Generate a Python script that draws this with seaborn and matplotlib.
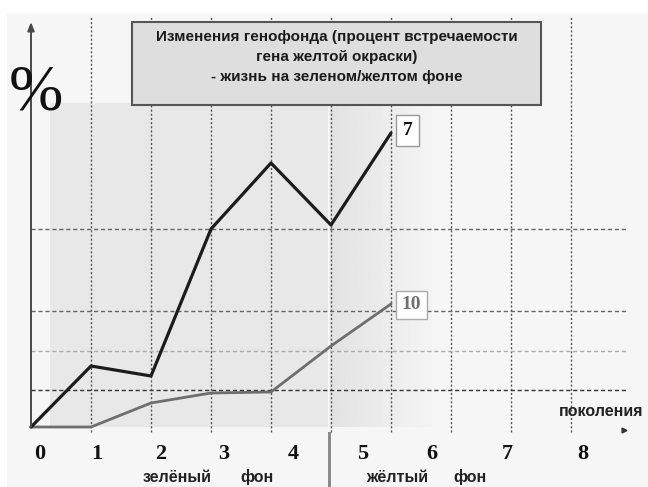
import numpy as np
import seaborn as sns
import matplotlib.pyplot as plt
from matplotlib.patches import Rectangle

# Данные (проценты, условные единицы)
generations = [0, 1, 2, 3, 4, 5, 6]
line_black = [0, 15.25, 12.75, 49.5, 66, 50.5, 73.5]
line_gray = [0, 0, 6, 8.5, 8.75, 20.25, 30.75]
end_labels = ['7', '10']
tick_labels = ['0', '1', '2', '3', '4', '5', '6', '7', '8']
title_lines = ['Изменения генофонда (процент встречаемости',
               'гена желтой окраски)',
               '- жизнь на зеленом/желтом фоне']

# Разметка (пиксели -> координаты осей)
W, H = 648, 487
X0, SX = 31, 60      # пиксель поколения 0, пикселей на поколение
Y0, SY = 427, 4      # пиксель нуля, пикселей на единицу


def px_x(px):
    return (px - X0) / SX


def px_y(py):
    return (Y0 - py) / SY


sns.set_style('white')
plt.rcParams['font.family'] = ['Liberation Sans', 'DejaVu Sans']

fig = plt.figure(figsize=(W / 100, H / 100), dpi=100)
fig.patch.set_facecolor('white')
# светло-серый фон слайда
fig.add_artist(Rectangle((7 / W, 0), 1, 1 - 14 / H, transform=fig.transFigure,
                         fc='#f6f6f6', ec='none', zorder=-10))

ax = fig.add_axes([X0 / W, (H - Y0) / H, (640 - X0) / W, (Y0 - 15) / H])
ax.set_facecolor('none')
for s in ax.spines.values():
    s.set_visible(False)

# фоновые области: зелёный фон (пунктирная заливка) и жёлтый фон (градиент)
ax.axvspan(px_x(50), px_x(328), ymin=0, ymax=px_y(103) / px_y(15), fc='#e8e8e8', ec='none', zorder=0)
grad = np.linspace(0.89, 0.955, 50).reshape(1, -1)
ax.imshow(grad, cmap='gray', vmin=0, vmax=1, aspect='auto', zorder=0,
          extent=[px_x(330), px_x(432), 0, px_y(103)])

# сетка
for gx in range(1, 10):
    ax.plot([gx, gx], [px_y(432), px_y(16)], color='#555555', lw=1, ls=(0, (1.5, 1.5)),
            clip_on=False, zorder=1)
hgrid = [px_y(229), px_y(311), px_y(351), px_y(390)]
hcol = ['#666666', '#666666', '#aaaaaa', '#333333']
for gy, c in zip(hgrid, hcol):
    ax.plot([0, px_x(626)], [gy, gy], color=c, lw=1, ls=(0, (3, 2)), zorder=1)

# линии
sns.lineplot(x=generations, y=line_gray, color='#6e6e6e', linewidth=2.0, ax=ax, zorder=3)
sns.lineplot(x=generations, y=line_black, color='#1c1c1c', linewidth=2.3, ax=ax, zorder=4)
for ln in ax.lines:
    ln.set_clip_on(False)

# подписи на концах линий
ax.annotate(end_labels[0], xy=(generations[-1], line_black[-1]), xytext=(12, 2),
            textcoords='offset points', ha='center', va='center', fontsize=14,
            fontweight='bold', family='Liberation Serif', color='#111111',
            bbox=dict(boxstyle='square,pad=0.35', fc='white', ec='#999999', lw=1), zorder=6)
ax.annotate(end_labels[1], xy=(generations[-1], line_gray[-1]), xytext=(14.5, -0.7),
            textcoords='offset points', ha='center', va='center', fontsize=14,
            fontweight='bold', family='Liberation Serif', color='#707070',
            bbox=dict(boxstyle='square,pad=0.3', fc='white', ec='#aaaaaa', lw=1), zorder=6)

# оси со стрелками
ax.annotate('', xy=(0, px_y(22)), xytext=(0, 0),
            arrowprops=dict(arrowstyle='-|>,head_length=0.5,head_width=0.2', color='#4a4a4a',
                            lw=1.4, shrinkA=0, shrinkB=0), annotation_clip=False, zorder=5)
ax.plot(px_x(624), px_y(430), marker='>', ms=3.5, color='#333333', clip_on=False)

ax.set_xlim(0, px_x(640))
ax.set_ylim(0, px_y(15))

# подписи поколений
label_px = [40, 97, 161, 224, 293, 363, 432, 507, 583]
ax.set_xticks([px_x(p) for p in label_px], labels=tick_labels)
for t in ax.get_xticklabels():
    t.set_family('Liberation Serif')
    t.set_fontweight('bold')
    t.set_fontsize(16)
ax.tick_params(axis='x', length=0, pad=12, colors='#111111')
ax.set_yticks([])

ax.text(px_x(601), px_y(412), 'поколения', ha='center', va='center', fontsize=11.5,
        fontweight='bold', color='#222222')
for word, xp in [('зелёный', 177), ('фон', 257), ('жёлтый', 397), ('фон', 470)]:
    fig.text(xp / W, 1 - 482 / H, word, ha='center', va='baseline', fontsize=11.5,
             fontweight='bold', color='#222222')
fig.add_artist(Rectangle((328 / W, 0), 3 / W, 55 / H, transform=fig.transFigure,
                         fc='#8a8a8a', ec='none', zorder=3))

# знак процента
fig.text(36 / W, 1 - 94 / H, '%', ha='center', va='center', fontsize=47,
         family='Liberation Serif', color='#111111', zorder=6)

# заголовок в рамке
fig.add_artist(Rectangle((132 / W, 1 - 105 / H), 409 / W, 83 / H, transform=fig.transFigure,
                         fc='#dedede', ec='#555555', lw=1.5, zorder=5))
for i, line in enumerate(title_lines):
    fig.text(337 / W, 1 - (37 + 20 * i) / H, line, ha='center', va='center', fontsize=11,
             fontweight='bold', color='#1a1a1a', zorder=6)

plt.savefig('out.png', dpi=100)
